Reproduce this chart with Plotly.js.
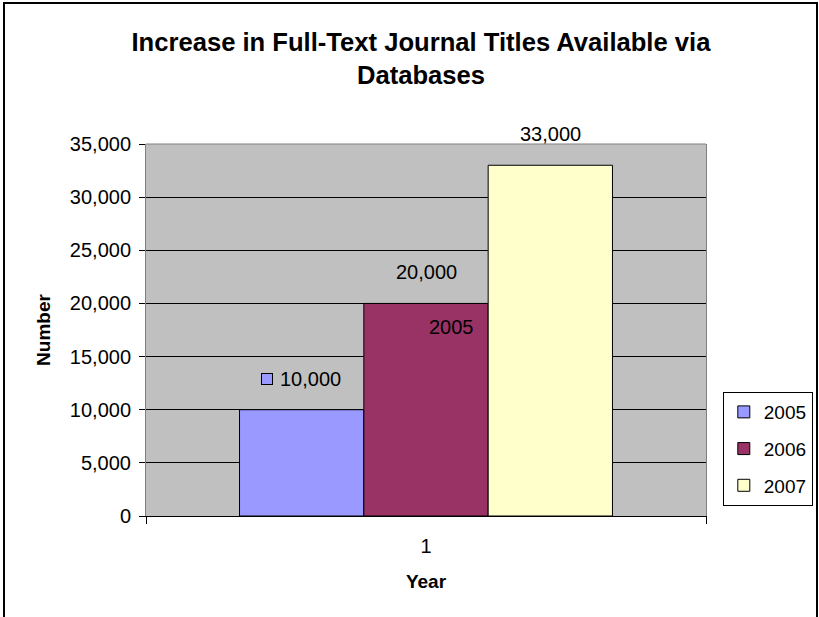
<!DOCTYPE html>
<html>
<head>
<meta charset="utf-8">
<script src="https://cdn.plot.ly/plotly-3.0.1.min.js"></script>
<style>
  html, body { margin: 0; padding: 0; background: #fff; }
  #wrap { position: relative; width: 819px; height: 617px; overflow: hidden; }
  #chart { width: 819px; height: 617px; }
  #frame { position: absolute; left: 3px; top: 2px; width: 811px; height: 700px;
           border: 2px solid #000; pointer-events: none; }
</style>
</head>
<body>
<div id="wrap">
  <div id="chart"></div>
  <div id="frame"></div>
</div>
<script>
const categories = ['1'];
const seriesNames = ['2005', '2006', '2007'];
const seriesValues = [[10000], [20000], [33000]];
const seriesColors = ['#9999ff', '#993366', '#ffffcc'];
const yTickValues = [0, 5000, 10000, 15000, 20000, 25000, 30000, 35000];

const FONT = 'Liberation Sans, Arial, sans-serif';
const bargap = 0.334;

const traces = seriesNames.map((name, i) => ({
  type: 'bar',
  name: name,
  legendgroup: 'g' + i,
  x: categories,
  y: seriesValues[i],
  marker: { color: seriesColors[i], line: { color: '#000', width: 1 } },
  hoverinfo: 'skip'
}));

// bar centre offsets within the group (category axis units)
const n = seriesNames.length;
const barW = (1 - bargap) / n;
const offsets = seriesNames.map((_, i) => -((1 - bargap) / 2) + barW * (i + 0.5));

const fmt = v => v.toLocaleString('en-US');
const annotations = [];
seriesNames.forEach((name, i) => {
  const v = seriesValues[i][0];
  annotations.push({
    x: offsets[i], y: v, xref: 'x', yref: 'y',
    text: fmt(v), showarrow: false, yanchor: 'middle', yshift: 31,
    xshift: i === 0 ? 9 : 0,
    font: { family: FONT, size: 20, color: '#000' }
  });
});
// legend key shown beside the first data label
annotations.push({
  x: offsets[0], y: seriesValues[0][0], xref: 'x', yref: 'y',
  text: ' ', showarrow: false, yanchor: 'middle', yshift: 31, xshift: -35,
  width: 10, height: 10, bgcolor: seriesColors[0], bordercolor: '#000', borderwidth: 1, borderpad: 0,
  font: { family: FONT, size: 6 }
});
// stray series-name label drawn inside the 2006 bar
annotations.push({
  x: offsets[1], y: seriesValues[1][0], xref: 'x', yref: 'y',
  text: seriesNames[0], showarrow: false, yanchor: 'middle', yshift: -24, xshift: 25,
  font: { family: FONT, size: 20, color: '#000' }
});

const layout = {
  width: 819, height: 617,
  margin: { l: 146, r: 113, t: 144, b: 101, pad: 0, autoexpand: false },
  paper_bgcolor: '#ffffff',
  plot_bgcolor: '#c0c0c0',
  barmode: 'group',
  bargap: bargap,
  bargroupgap: 0,
  showlegend: true,
  font: { family: FONT, size: 20, color: '#000' },
  title: {
    text: '<b>Increase in Full-Text Journal Titles Available via<br>Databases</b>',
    font: { family: FONT, size: 25.6, color: '#000' },
    x: 0.514, xanchor: 'center', xref: 'container',
    y: 0.918, yanchor: 'top', yref: 'container'
  },
  xaxis: {
    type: 'category',
    tickson: 'boundaries',
    ticks: 'outside', ticklen: 7, tickcolor: '#000',
    ticklabelstandoff: 12,
    showline: true, linecolor: '#000', linewidth: 1,
    showgrid: false,
    tickfont: { family: FONT, size: 20 },
    title: { text: '<b>Year</b>', font: { family: FONT, size: 19 }, standoff: 18 },
    fixedrange: true
  },
  yaxis: {
    range: [0, 35000],
    tickvals: yTickValues,
    ticktext: yTickValues.map(fmt),
    ticks: 'outside', ticklen: 6, tickcolor: '#000',
    ticklabelstandoff: 4,
    showline: true, linecolor: '#808080', linewidth: 1, mirror: true,
    showgrid: true, gridcolor: '#000', gridwidth: 1,
    zeroline: false,
    tickfont: { family: FONT, size: 20 },
    title: { text: '<b>Number</b>', font: { family: FONT, size: 19 }, standoff: 14 },
    fixedrange: true
  },
  shapes: [{
    type: 'line', xref: 'paper', yref: 'paper', x0: 0, x1: 1, y0: 1, y1: 1,
    line: { color: '#808080', width: 1 }
  }],
  legend: {
    x: 1.03, xanchor: 'left', y: 0.18, yanchor: 'middle',
    bgcolor: '#fff', bordercolor: '#000', borderwidth: 1,
    font: { family: FONT, size: 19, color: '#000' },
    traceorder: 'grouped', tracegroupgap: 9,
    itemwidth: 30
  },
  annotations: annotations
};

Plotly.newPlot('chart', traces, layout, { displayModeBar: false, staticPlot: true });
</script>
</body>
</html>
